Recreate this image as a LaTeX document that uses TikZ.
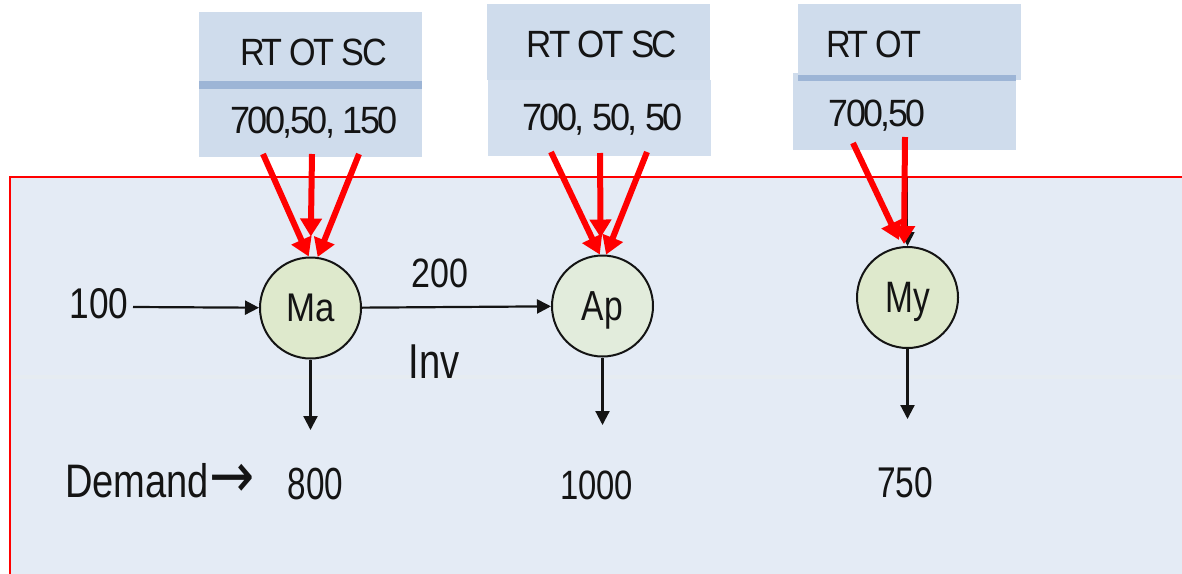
\documentclass[tikz,border=0pt]{standalone}
\usepackage{fontspec}
\usepackage{graphicx}
\setmainfont{Liberation Sans}
\newfontfamily\tightsans[LetterSpace=-7]{Liberation Sans}
\newfontfamily\arrowfont{DejaVu Sans}
\usetikzlibrary{arrows.meta}

\definecolor{framefill}{HTML}{E4EBF5}
\definecolor{bandfill}{HTML}{E6ECF1}
\definecolor{boxfill}{HTML}{CFDCEC}
\definecolor{boxfilltwo}{HTML}{D3DFEE}
\definecolor{stripe}{HTML}{9DB5D6}
\definecolor{arrred}{HTML}{FF0000}
\definecolor{ink}{HTML}{141414}
\definecolor{nodegreen}{HTML}{DEE9CC}
\definecolor{nodepale}{HTML}{E2ECDC}

% text of a given size (pt) squeezed horizontally by a factor
\newcommand\sqtext[3]{\fontsize{#1}{#1}\selectfont\scalebox{#2}[1]{#3}}
% same, set with tight letter spacing
\newcommand\sqtight[3]{\fontsize{#1}{#1}\selectfont\tightsans\scalebox{#2}[1]{#3}}

\begin{document}
\begin{tikzpicture}[x=1pt,y=-1pt,
  redarr/.style={draw=arrred, line width=6pt, -{Triangle[length=18pt,width=21pt]}},
  blkarr/.style={draw=ink, line width=2.2pt, -{Triangle[length=14pt,width=14pt]}},
  circ/.style={circle, draw=ink, line width=2pt, minimum size=101pt, inner sep=0pt, text depth=0pt, text=ink},
  txt/.style={inner sep=0pt, text=ink}]

\useasboundingbox (0,0) rectangle (1182,573);
\fill[white] (0,0) rectangle (1182,573);

% red-bordered panel
\begin{scope}
  \clip (0,0) rectangle (1182,573);
  \draw[draw=arrred, line width=2pt, fill=framefill] (10,177) rectangle (1200,600);
\end{scope}
\fill[bandfill] (11,375) rectangle (1182,379);

% parameter boxes
\fill[boxfill] (199,12) rectangle (422,157);
\fill[stripe] (199,81) rectangle (422,89);
\fill[boxfill] (487,4) rectangle (710,80);
\fill[boxfilltwo] (488,80) rectangle (711,156);
\fill[boxfill] (798,4) rectangle (1021,80);
\fill[boxfill] (793,73) rectangle (1016,150);
\fill[stripe] (798,75) rectangle (1016,81);

\node[txt, anchor=base] (h1) at (313.5,65) {\sqtight{38}{0.9}{RT OT SC}};
\node[txt, anchor=base] (v1) at (314,133) {\sqtight{38}{0.95}{700,50, 150}};
\node[txt, anchor=base] (h2) at (602,57) {\sqtight{38}{0.92}{RT OT SC}};
\node[txt, anchor=base] (v2) at (602.5,130) {\sqtight{38}{0.95}{700, 50, 50}};
\node[txt, anchor=base] (h3) at (873.5,57) {\sqtight{38}{0.9}{RT OT}};
\node[txt, anchor=base] (v3) at (877,126) {\sqtight{38}{0.94}{700,50}};

% locations
\node[circ, fill=nodegreen] (Ma) at (310.5,308) {\sqtext{40}{0.87}{Ma}};
\node[circ, fill=nodepale] (Ap) at (602.5,306) {\sqtext{42}{0.8}{Ap}};
\node[circ, fill=nodegreen] (My) at (907.5,297.5) {\sqtext{44}{0.76}{My}};

% labels
\node[txt, anchor=base] (in) at (99,318) {\sqtext{43}{0.82}{100}};
\node[txt, anchor=base] (qty) at (440,287) {\sqtext{41}{0.83}{200}};
\node[txt, anchor=base] (inv) at (434,378) {\sqtext{49}{0.78}{Inv}};
\node[txt, anchor=base west] (dem) at (65,497) {\sqtext{47}{0.81}{Demand}\fontsize{60}{60}\arrowfont\scalebox{0.9}[1.05]{→}};
\node[txt, anchor=base] (d1) at (315.5,499) {\sqtext{45}{0.74}{800}};
\node[txt, anchor=base] (d2) at (596.5,499) {\sqtext{41}{0.8}{1000}};
\node[txt, anchor=base] (d3) at (905,497) {\sqtext{43}{0.78}{750}};

% black flows
\coordinate (src) at (133,307);
\coordinate (outMa) at (310.5,430);
\coordinate (outAp) at (602.5,425);
\coordinate (outMy) at (907.5,419);
\coordinate (myIn) at (907.5,177);
\draw[blkarr] (src) -- (Ma);
\draw[blkarr] (Ma) -- (Ap);
\draw[blkarr] (Ma) -- (outMa);
\draw[blkarr] (Ap) -- (outAp);
\draw[blkarr] (My) -- (outMy);
\draw[blkarr, line width=1.5pt] (myIn) -- (My);

% red parameter arrows
\coordinate (a1) at (263,154);
\coordinate (a2) at (312,154);
\coordinate (a3) at (359,154);
\draw[redarr] (a1) -- (Ma.92);
\draw[redarr, shorten >=20pt] (a2) -- (Ma.north);
\draw[redarr] (a3) -- (Ma.82);

\coordinate (b1) at (551,152);
\coordinate (b2) at (600,153);
\coordinate (b3) at (647,152);
\draw[redarr] (b1) -- (Ap.93);
\draw[redarr, shorten >=17pt] (b2) -- (Ap.92);
\draw[redarr] (b3) -- (Ap.86);

\coordinate (c1) at (853,143);
\coordinate (c2) at (905,137);
\coordinate (t1) at (899,240);
\coordinate (t2) at (904,244);
\draw[redarr] (c1) -- (t1);
\draw[redarr] (c2) -- (t2);
\end{tikzpicture}
\end{document}
